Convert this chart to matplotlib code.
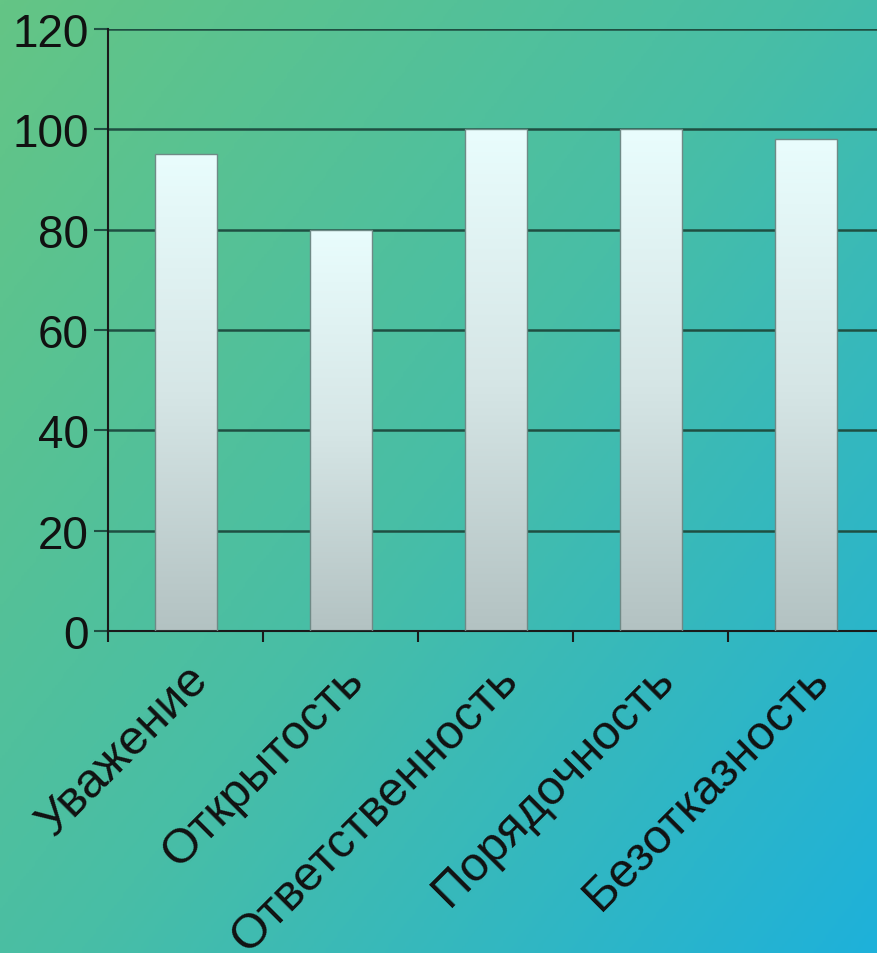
import numpy as np
import matplotlib.pyplot as plt
import matplotlib.transforms as mtransforms
from matplotlib.colors import LinearSegmentedColormap

plt.rcParams['font.family'] = ['Liberation Sans', 'DejaVu Sans']

categories = ['Уважение', 'Открытость', 'Ответственность', 'Порядочность', 'Безотказность']
values = [95, 80, 100, 100, 98]
yticks = [0, 20, 40, 60, 80, 100, 120]

fig = plt.figure(figsize=(8.78, 9.54), dpi=100)

# diagonal green -> blue backdrop
bg = fig.add_axes([0, 0, 1, 1], zorder=0)
gx, gy = np.meshgrid(np.linspace(0, 1, 300), np.linspace(0, 1, 300))
grad = (gx * 0.55 + gy * 0.45)
bg_cmap = LinearSegmentedColormap.from_list('bg', ['#64c585', '#48bea6', '#1eb1da'])
bg.imshow(grad, cmap=bg_cmap, aspect='auto', extent=[0, 1, 0, 1], origin='upper')
bg.axis('off')

ax = fig.add_axes([108 / 878, 1 - 632 / 954, 775 / 878, 602 / 954], zorder=1)
ax.patch.set_alpha(0)

x = np.arange(len(categories))
bars = ax.bar(x, values, width=0.4, color='none', edgecolor='#6f8a86', linewidth=1.0, zorder=3)

bar_cmap = LinearSegmentedColormap.from_list('bar', ['#b3c2c2', '#d6e6e6', '#e9fdfd'])
col = np.linspace(0, 1, 256).reshape(-1, 1)
for b in bars:
    x0, y0 = b.get_x(), b.get_y()
    im = ax.imshow(col, cmap=bar_cmap, aspect='auto', origin='lower',
                   extent=[x0, x0 + b.get_width(), y0, y0 + b.get_height()], zorder=2)
    im.set_clip_path(b)

ax.set_xlim(-0.5, len(categories) - 0.5)
ax.set_ylim(0, 120)
ax.set_yticks(yticks)
ax.set_yticklabels([str(t) for t in yticks], fontsize=33, color='#111111')
ax.yaxis.grid(True, color='#1f4f42', linewidth=1.8, zorder=1)
ax.set_axisbelow(True)

ax.set_xticks(np.arange(len(categories) + 1) - 0.5)
ax.set_xticklabels([])
ax.set_xticks(x, minor=True)
labels = ax.set_xticklabels(categories, minor=True, rotation=45, ha='right', va='top',
                            rotation_mode='anchor', fontsize=35, color='#111111')
shift = mtransforms.ScaledTranslation(-12 / 100, -4 / 100, fig.dpi_scale_trans)
for t in labels:
    t.set_transform(t.get_transform() + shift)
ax.tick_params(axis='x', which='minor', length=0, pad=18)
ax.tick_params(axis='x', which='major', length=8, width=1.5, color='#1a1a1a', direction='out')
ax.tick_params(axis='y', length=10, width=1.5, color='#1f4f42', pad=4)

for s in ['top', 'right']:
    ax.spines[s].set_visible(False)
ax.spines['left'].set_color('#1a1a1a')
ax.spines['left'].set_linewidth(1.5)
ax.spines['bottom'].set_color('#1a1a1a')
ax.spines['bottom'].set_linewidth(1.5)

fig.savefig('out.png', dpi=100)
